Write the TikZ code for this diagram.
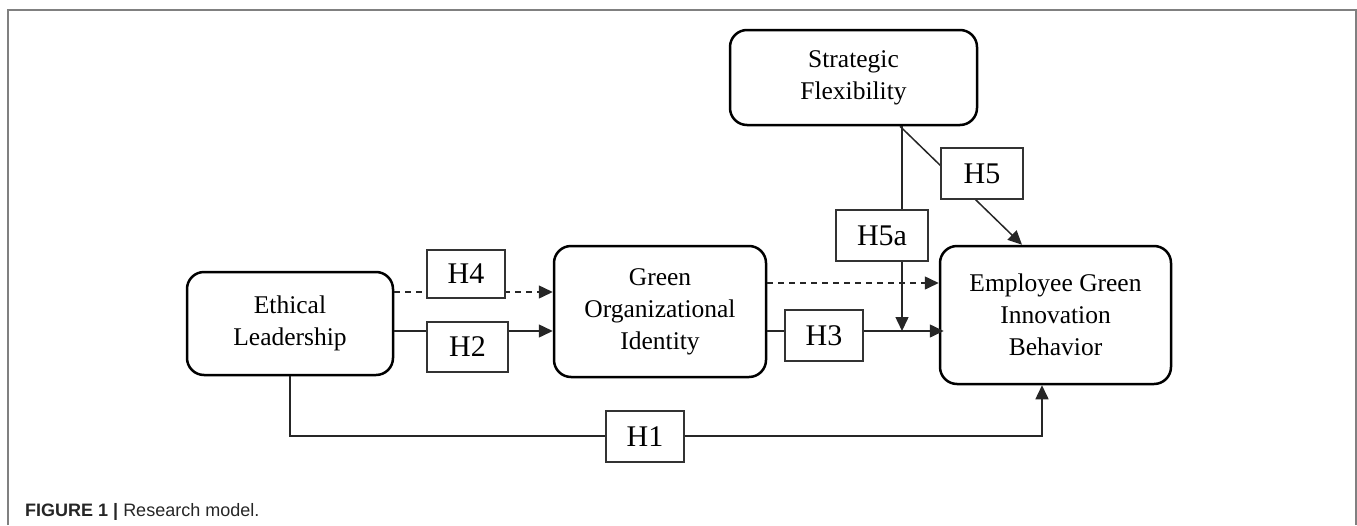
\documentclass[tikz,border=0pt]{standalone}
\usepackage{fontspec}
\setmainfont{Liberation Serif}
\newfontfamily\capfont{Liberation Sans}
\usetikzlibrary{arrows.meta,calc}
\begin{document}
\begin{tikzpicture}[x=1pt,y=-1pt,
  bigbox/.style={draw, line width=2.5pt, rounded corners=17pt, align=center,
    font=\fontsize{25.5}{32}\selectfont, inner sep=0pt},
  hbox/.style={draw=black!80, line width=1.4pt, fill=white, inner sep=0pt,
    font=\fontsize{30}{36}\selectfont},
  conn/.style={line width=1.5pt, draw=black!85},
  arr/.style={conn, -{Triangle[length=14pt,width=13pt]}},
  dashconn/.style={arr, dash pattern=on 6pt off 5pt},
  frame/.style={draw=gray, line width=2pt}
]
\useasboundingbox (0,0) rectangle (1357,525);
\draw[frame] (8,525) -- (8,10) -- (1356,10) -- (1356,525);

% main constructs
\node[bigbox, minimum width=206pt, minimum height=103pt] (EL) at (290,323.5) {Ethical\\Leadership};
\node[bigbox, minimum width=212pt, minimum height=131pt] (GOI) at (660,311.5) {Green\\Organizational\\Identity};
\node[bigbox, minimum width=231pt, minimum height=138pt] (EGIB) at (1055.5,315) {Employee Green\\Innovation\\Behavior};
\node[bigbox, minimum width=247pt, minimum height=95pt] (SF) at (853.5,77.5) {Strategic\\Flexibility};

% connectors
\draw[dashconn] (EL.east |- 0,292) -- (GOI.west |- 0,292);
\draw[arr] (EL.east |- 0,331) -- (GOI.west |- 0,331);
\draw[dashconn] (GOI.east |- 0,283) -- (EGIB.west |- 0,283);
\draw[arr] (GOI.east |- 0,331) -- ($(EGIB.west |- 0,331)+(5,0)$);
\coordinate (j) at (902,331);
\draw[arr] (SF.south -| 902,0) -- (j);
\draw[arr] (SF.south -| 900,0) -- (1022,0 |- EGIB.north);
\draw[arr] (EL.south) -- (EL.south |- 0,436) -- (1042,436) -- (1042,0 |- EGIB.south);

% hypothesis labels
\node[hbox, minimum width=78pt, minimum height=48pt] (H4) at (466,274) {H4};
\node[hbox, minimum width=81pt, minimum height=50pt] (H2) at (467.5,347) {H2};
\node[hbox, minimum width=78pt, minimum height=51pt] (H3) at (824,335.5) {H3};
\node[hbox, minimum width=78pt, minimum height=51pt] (H1) at (645,436.5) {H1};
\node[hbox, minimum width=82pt, minimum height=51pt] (H5) at (982,173.5) {H5};
\node[hbox, minimum width=92pt, minimum height=51pt] (H5a) at (882,235.5) {H5a};

% caption
\node[anchor=base west, inner sep=0pt, text=black!85, font=\capfont\fontsize{18}{22}\selectfont] (cap) at (25,516) {\textbf{FIGURE 1 |} Research model.};
\end{tikzpicture}
\end{document}
